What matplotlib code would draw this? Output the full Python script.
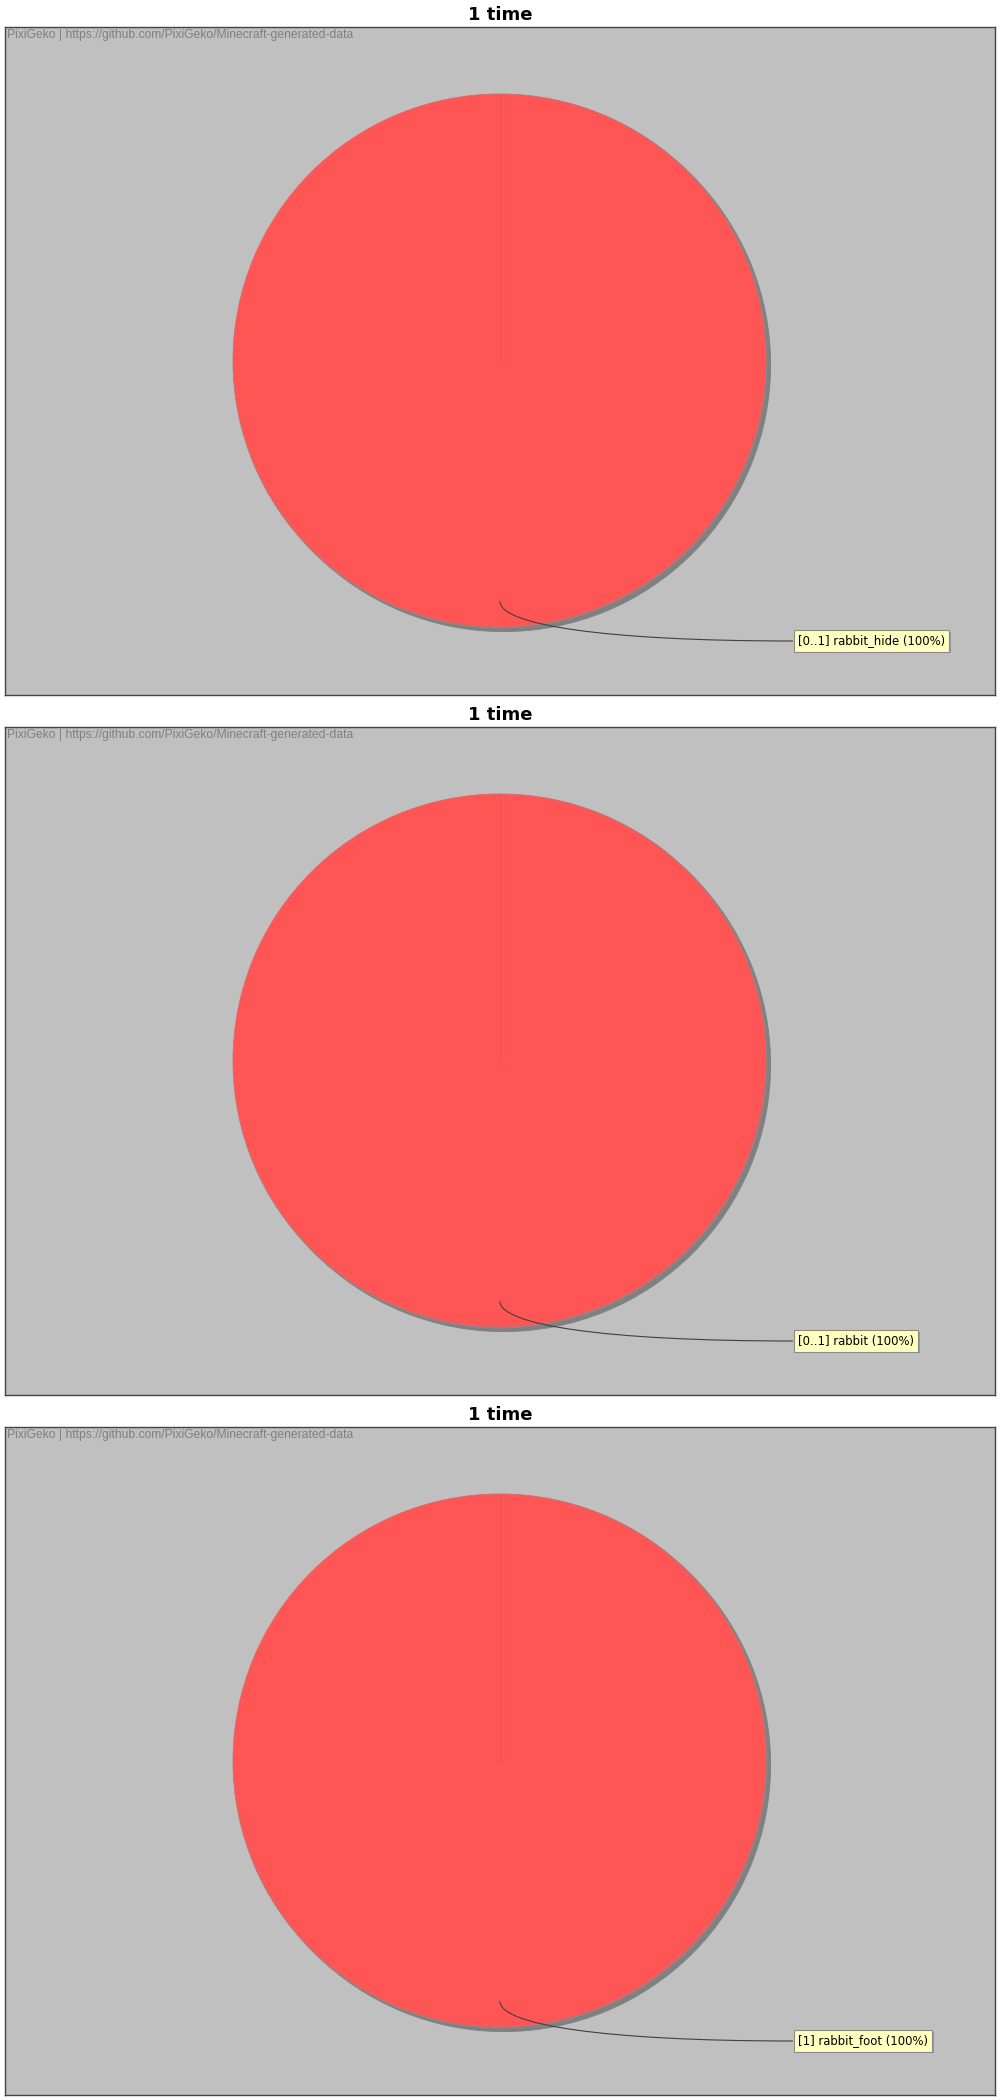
import matplotlib
matplotlib.use("Agg")
import matplotlib.pyplot as plt
from matplotlib.path import Path
from matplotlib.patches import PathPatch
import matplotlib.patheffects as pe

titles = ["1 time", "1 time", "1 time"]
item_labels = ["[0..1] rabbit_hide", "[0..1] rabbit", "[1] rabbit_foot"]
item_shares = [[100.0], [100.0], [100.0]]
watermark = "PixiGeko | https://github.com/PixiGeko/Minecraft-generated-data"

W, H = 1000, 2100
PANEL_H = 700
BOX_L, BOX_R = 5, 995
BOX_T, BOX_B = 27, 695

fig = plt.figure(figsize=(W / 100, H / 100), dpi=100)
fig.patch.set_facecolor("white")

bw = BOX_R - BOX_L
bh = BOX_B - BOX_T
cx, cy = bw / 2, bh / 2
radius = 267

for i, (title, lab, shares) in enumerate(zip(titles, item_labels, item_shares)):
    top = i * PANEL_H
    ax = fig.add_axes([BOX_L / W, 1 - (top + BOX_B) / H, bw / W, bh / H])
    ax.set_facecolor("#c0c0c0")
    wedges, _ = ax.pie(shares, radius=radius, center=(cx, cy), startangle=90,
                       counterclock=False, colors=["#ff5555"],
                       wedgeprops=dict(edgecolor="#8a8a8a", linewidth=0.6),
                       shadow=dict(ox=2.6, oy=-2.6, facecolor="#808080",
                                   edgecolor="#808080", alpha=1.0),
                       frame=True)
    ax.plot([cx, cx], [cy, cy + radius], color="#c85858", lw=0.5, zorder=5)
    ax.set_xlim(0, bw)
    ax.set_ylim(0, bh)
    ax.set_aspect("auto")
    ax.set_xticks([])
    ax.set_yticks([])
    for s in ax.spines.values():
        s.set_color("#444444")
        s.set_linewidth(1.0)

    # label link (cubic curve)
    anchor = (cx, cy - 0.9 * radius)
    target = (788, 54)
    verts = [anchor, (cx, 70), (600, target[1]), target]
    path = Path(verts, [Path.MOVETO, Path.CURVE4, Path.CURVE4, Path.CURVE4])
    ax.add_patch(PathPatch(path, facecolor="none", edgecolor="#404040", lw=0.8, zorder=6))

    pct = shares[0] / sum(shares) * 100
    t = ax.text(target[0] + 5, target[1], f"{lab} ({pct:.0f}%)", ha="left", va="center",
                fontsize=8.4, family="DejaVu Sans", color="black", zorder=8,
                bbox=dict(boxstyle="square,pad=0.35", facecolor="#ffffc0",
                          edgecolor="#8a8a8a", linewidth=0.8))
    t.get_bbox_patch().set_path_effects([
        pe.SimplePatchShadow(offset=(1.2, -1.2), shadow_rgbFace="#9a9a9a", alpha=1.0),
        pe.Normal()])

    ax.text(2, bh - 8, watermark, ha="left", va="center", fontsize=8.7,
            family="Liberation Sans", color="#808080", zorder=9)

    fig.text(0.5, 1 - (top + 15) / H, title, ha="center", va="center",
             fontsize=13, fontweight="bold", family="DejaVu Sans")

fig.savefig("out.png", dpi=100, facecolor="white")
